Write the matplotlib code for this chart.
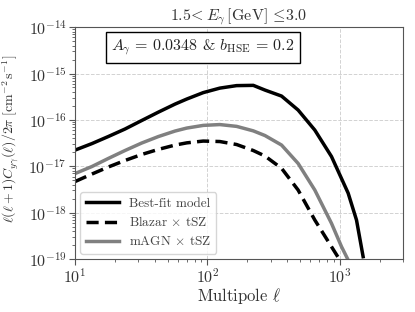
import numpy as np
import matplotlib
matplotlib.use('Agg')
import matplotlib.pyplot as plt

plt.rcParams['font.family'] = 'serif'
plt.rcParams['font.serif'] = ['cmr10', 'DejaVu Serif']
plt.rcParams['mathtext.fontset'] = 'cm'
plt.rcParams['axes.formatter.use_mathtext'] = True
plt.rcParams['axes.unicode_minus'] = False

# multipoles at which the curves were read
ell = [10, 13.4, 17.8, 23.8, 31.8, 42.6, 56.9, 69.7, 92.9, 124, 166, 222, 272, 363, 484, 647, 865]

# best-fit model
ell_best = ell + [1156, 1337, 1500]
cl_best = [2.23e-17, 3.08e-17, 4.37e-17, 6.34e-17, 9.66e-17, 1.47e-16, 2.19e-16, 2.81e-16, 3.87e-16, 4.84e-16,
           5.48e-16, 5.55e-16, 4.39e-16, 3.26e-16, 1.63e-16, 6.03e-17, 1.62e-17, 2.63e-18, 6.9e-19, 1.12e-19]

# blazar x tSZ
ell_blz = ell + [1000]
cl_blz = [4.68e-18, 6.79e-18, 9.61e-18, 1.33e-17, 1.79e-17, 2.31e-17, 2.86e-17, 3.19e-17, 3.49e-17, 3.41e-17,
          2.94e-17, 2.18e-17, 1.66e-17, 9.02e-18, 3.07e-18, 6.93e-19, 1.84e-19, 9.5e-20]

# mAGN x tSZ
ell_agn = ell + [1030, 1156]
cl_agn = [6.96e-18, 9.86e-18, 1.47e-17, 2.18e-17, 3.16e-17, 4.37e-17, 5.74e-17, 6.65e-17, 7.60e-17, 7.92e-17,
          7.24e-17, 5.79e-17, 4.59e-17, 2.86e-17, 1.15e-17, 3.07e-18, 5.87e-19, 1.84e-19, 9.5e-20]

xticks = [10, 100, 1000]
yticks = [1e-19, 1e-18, 1e-17, 1e-16, 1e-15, 1e-14]

fig = plt.figure(figsize=(4.15, 3.12), dpi=100)
ax = fig.add_axes([0.181, 0.170, 0.790, 0.743])

ax.plot(ell_best, cl_best, color='black', lw=2.5, label='Best-fit model')
ax.plot(ell_blz, cl_blz, color='black', lw=2.5, ls=(0, (3.5, 1.8)), label=r'Blazar $\times$ tSZ')
ax.plot(ell_agn, cl_agn, color='gray', lw=2.5, label=r'mAGN $\times$ tSZ')

ax.set_xscale('log')
ax.set_yscale('log')
ax.set_xticks(xticks)
ax.set_yticks(yticks)
ax.set_xlim(10, 3000)
ax.set_ylim(1e-19, 1e-14)
ax.grid(True, which='major', ls='--', color='#d2d2d2', lw=0.7)

for s in ax.spines.values():
    s.set_color('#555555')
ax.tick_params(which='both', colors='#555555', labelcolor='#333333', labelsize=11.5, pad=2)
ax.tick_params(which='major', length=4)
ax.tick_params(which='minor', length=2.5)

ax.set_xlabel(r'Multipole $\ell$', fontsize=12, color='#333333', labelpad=0)
ax.set_ylabel(r'$\ell(\ell+1)C_{y\gamma}(\ell)/2\pi\;[{\rm cm^{-2}\,s^{-1}}]$', fontsize=10,
              color='#333333')
ax.yaxis.set_label_coords(-0.168, 0.52)
ax.set_title(r'$1.5\!<E_\gamma\,[{\rm GeV}]\,\leq\!3.0$', fontsize=11.5, color='#333333', pad=5)

ax.text(0.39, 0.912, r'$A_\gamma\,=\,0.0348$ & $b_{\rm HSE}\,=\,0.2$', transform=ax.transAxes,
        ha='center', va='center', fontsize=11.5, color='#222222',
        bbox=dict(boxstyle='square,pad=0.35', facecolor='white', edgecolor='black', lw=1))

leg = ax.legend(loc='lower left', fontsize=9.5, handlelength=2.5, borderaxespad=0.4, labelspacing=0.45)
for t in leg.get_texts():
    t.set_color('#444444')

fig.savefig('out.png', dpi=100)
